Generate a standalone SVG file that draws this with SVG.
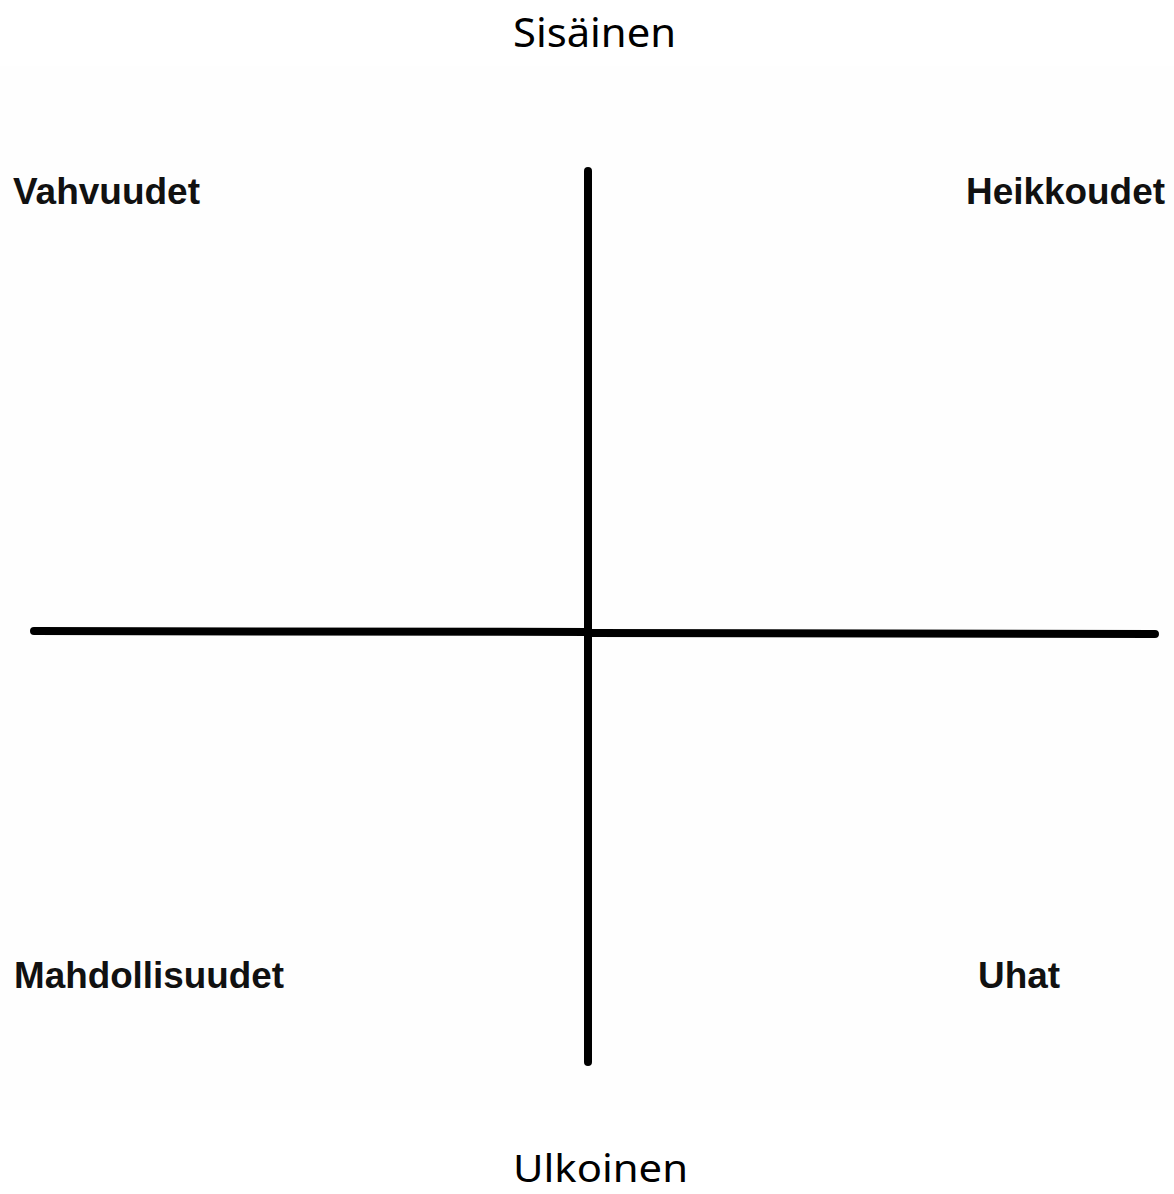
<svg xmlns="http://www.w3.org/2000/svg" width="1174" height="1194" viewBox="0 0 1174 1194">
<style>
.title{font-family:"Noto Sans","Open Sans",sans-serif;font-size:40px;fill:#000}
.lbl{font-family:"Liberation Sans",Arial,sans-serif;font-weight:bold;font-size:36px;fill:#111}
.axis{stroke:#000;stroke-width:8;stroke-linecap:round;fill:none}
</style>
<rect x="0" y="0" width="1174" height="1194" fill="#fff"/>
<rect x="0" y="66" width="1174" height="1044" fill="#fefefe"/>
<g id="connectors">
<line class="axis" x1="588" y1="171" x2="588" y2="1062"/>
<line class="axis" x1="34" y1="631" x2="588" y2="632"/>
<line class="axis" x1="588" y1="633" x2="1155" y2="634"/>
</g>
<g id="title-top"><text class="title" x="513" y="47" textLength="163" lengthAdjust="spacingAndGlyphs">Sisäinen</text></g>
<g id="vahvuudet"><text class="lbl" x="13" y="204" textLength="187" lengthAdjust="spacingAndGlyphs">Vahvuudet</text></g>
<g id="heikkoudet"><text class="lbl" x="966" y="204" textLength="199" lengthAdjust="spacingAndGlyphs">Heikkoudet</text></g>
<g id="mahdollisuudet"><text class="lbl" x="14" y="988" textLength="270" lengthAdjust="spacingAndGlyphs">Mahdollisuudet</text></g>
<g id="uhat"><text class="lbl" x="978" y="988" textLength="82" lengthAdjust="spacingAndGlyphs">Uhat</text></g>
<g id="title-bottom"><text class="title" x="513" y="1182" style="font-size:38px" textLength="175" lengthAdjust="spacingAndGlyphs">Ulkoinen</text></g>
</svg>
